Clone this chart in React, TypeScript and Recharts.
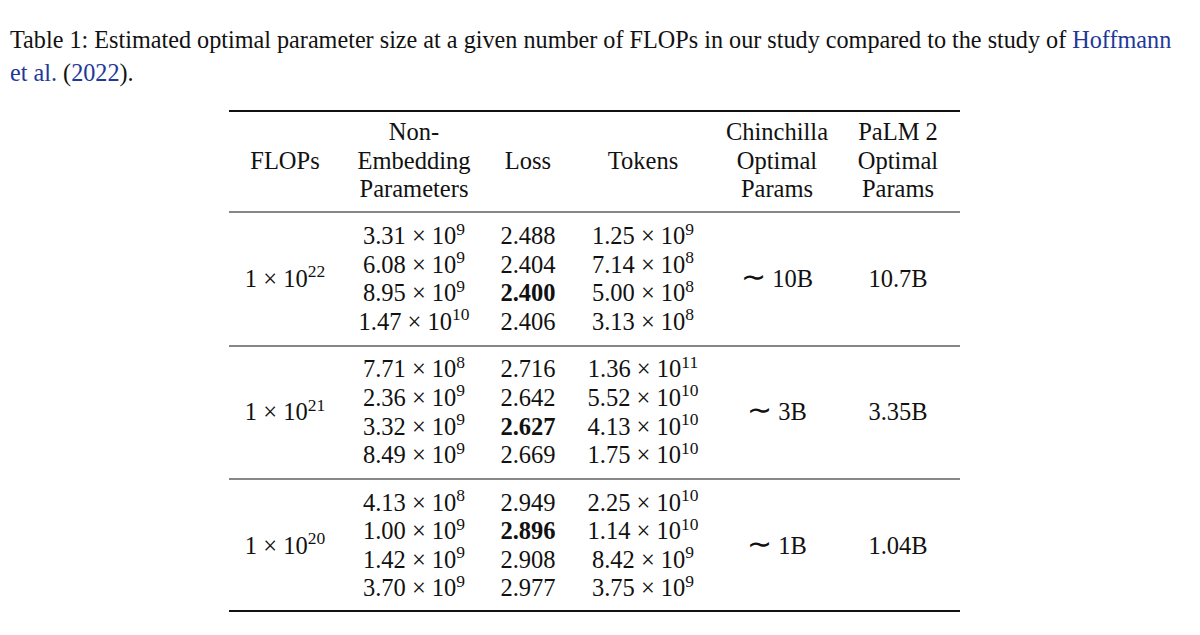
import { ScatterChart, Scatter, XAxis, YAxis, ReferenceLine } from 'recharts'

const flops = [1e22, 1e21, 1e20]
const params = [
  [3.31e9, 6.08e9, 8.95e9, 1.47e10],
  [7.71e8, 2.36e9, 3.32e9, 8.49e9],
  [4.13e8, 1.0e9, 1.42e9, 3.7e9],
]
const losses = [
  [2.488, 2.404, 2.4, 2.406],
  [2.716, 2.642, 2.627, 2.669],
  [2.949, 2.896, 2.908, 2.977],
]
const tokens = [
  [1.25e9, 7.14e8, 5.0e8, 3.13e8],
  [1.36e11, 5.52e10, 4.13e10, 1.75e10],
  [2.25e10, 1.14e10, 8.42e9, 3.75e9],
]
const chinchilla = ['10B', '3B', '1B']
const palm2 = ['10.7B', '3.35B', '1.04B']
const headers = [
  ['', 'FLOPs', ''],
  ['Non-', 'Embedding', 'Parameters'],
  ['', 'Loss', ''],
  ['', 'Tokens', ''],
  ['Chinchilla', 'Optimal', 'Params'],
  ['PaLM 2', 'Optimal', 'Params'],
]
const captionLines = [
  [
    { t: 'Table 1: Estimated optimal parameter size at a given number of FLOPs in our study compared to the study of ', link: false },
    { t: 'Hoffmann', link: true },
  ],
  [
    { t: 'et al.', link: true },
    { t: ' (', link: false },
    { t: '2022', link: true },
    { t: ').', link: false },
  ],
]

// layout
const W = 1200
const H = 635
const FONT = '"Liberation Serif", "Times New Roman", serif'
const INK = '#111'
const BLUE = '#22379a'
const FS = 24.5
const CAPTION_FS = 24.2
const colX = [285, 414, 528, 643, 777, 898]
const tableLeft = 229
const tableRight = 960
const headBase = 140
const step = 28.6
const groupBase = [244, 377.3, 510.6]
const captionBase = [48, 81]
const rules = [
  { y: 111, w: 2 },
  { y: 212, w: 1.2 },
  { y: 346, w: 1.2 },
  { y: 479, w: 1.2 },
  { y: 611, w: 2 },
]

type Cell = {
  x: number
  y: number
  kind: 'text' | 'sci' | 'caption'
  text?: string
  mant?: string
  exp?: string
  bold?: boolean
  line?: number
  tilde?: boolean
}

function sci(v: number, digits: number) {
  const [m, e] = v.toExponential(digits).split('e')
  return { mant: m, exp: String(Number(e)) }
}

function buildCells(): Cell[] {
  const cells: Cell[] = []
  captionLines.forEach((_, i) => cells.push({ x: 10, y: captionBase[i], kind: 'caption', line: i }))
  headers.forEach((lines, c) =>
    lines.forEach((t, r) => {
      if (t) cells.push({ x: colX[c], y: headBase + r * step, kind: 'text', text: t })
    })
  )
  flops.forEach((f, g) => {
    const mid = groupBase[g] + 1.5 * step
    cells.push({ x: colX[0], y: mid, kind: 'sci', ...sci(f, 0) })
    const best = Math.min(...losses[g])
    params[g].forEach((p, r) => cells.push({ x: colX[1], y: groupBase[g] + r * step, kind: 'sci', ...sci(p, 2) }))
    losses[g].forEach((l, r) =>
      cells.push({ x: colX[2], y: groupBase[g] + r * step, kind: 'text', text: l.toFixed(3), bold: l === best })
    )
    tokens[g].forEach((t, r) => cells.push({ x: colX[3], y: groupBase[g] + r * step, kind: 'sci', ...sci(t, 2) }))
    cells.push({ x: colX[4], y: mid, kind: 'text', text: ' ' + chinchilla[g], tilde: true })
    cells.push({ x: colX[5], y: mid, kind: 'text', text: palm2[g] })
  })
  return cells
}

const cells = buildCells()

function CellShape(props: any) {
  const { cx, cy, payload } = props
  const p = payload as Cell
  if (p.kind === 'caption') {
    return (
      <text x={cx} y={cy} fontFamily={FONT} fontSize={CAPTION_FS} fill={INK} style={{ whiteSpace: 'pre' }}>
        {captionLines[p.line ?? 0].map((s, i) => (
          <tspan key={i} fill={s.link ? BLUE : INK}>
            {s.t}
          </tspan>
        ))}
      </text>
    )
  }
  if (p.kind === 'sci') {
    return (
      <text x={cx} y={cy} textAnchor="middle" fontFamily={FONT} fontSize={FS} fill={INK} style={{ whiteSpace: 'pre' }}>
        {p.mant + ' \u00D7 10'}
        <tspan dy={-9.5} fontSize={17.5}>
          {p.exp}
        </tspan>
      </text>
    )
  }
  return (
    <text
      x={cx}
      y={cy}
      textAnchor="middle"
      fontFamily={FONT}
      fontSize={FS}
      fontWeight={p.bold ? 'bold' : 'normal'}
      fill={INK}
      style={{ whiteSpace: 'pre' }}
    >
      {p.tilde ? <tspan fontSize={30}>{'\u223C'}</tspan> : null}
      {p.text}
    </text>
  )
}

export default function App() {
  return (
    <div style={{ position: 'absolute', left: 0, top: 0, width: W, height: H, background: '#fff' }}>
      <ScatterChart width={W} height={H} margin={{ top: 0, right: 0, bottom: 0, left: 0 }}>
        <XAxis type="number" dataKey="x" domain={[0, W]} hide />
        <YAxis type="number" dataKey="y" domain={[0, H]} reversed hide />
        {rules.map((r, i) => (
          <ReferenceLine
            key={i}
            segment={[
              { x: tableLeft, y: r.y },
              { x: tableRight, y: r.y },
            ]}
            stroke={INK}
            strokeWidth={r.w}
          />
        ))}
        <Scatter data={cells} shape={CellShape} isAnimationActive={false} />
      </ScatterChart>
    </div>
  )
}
